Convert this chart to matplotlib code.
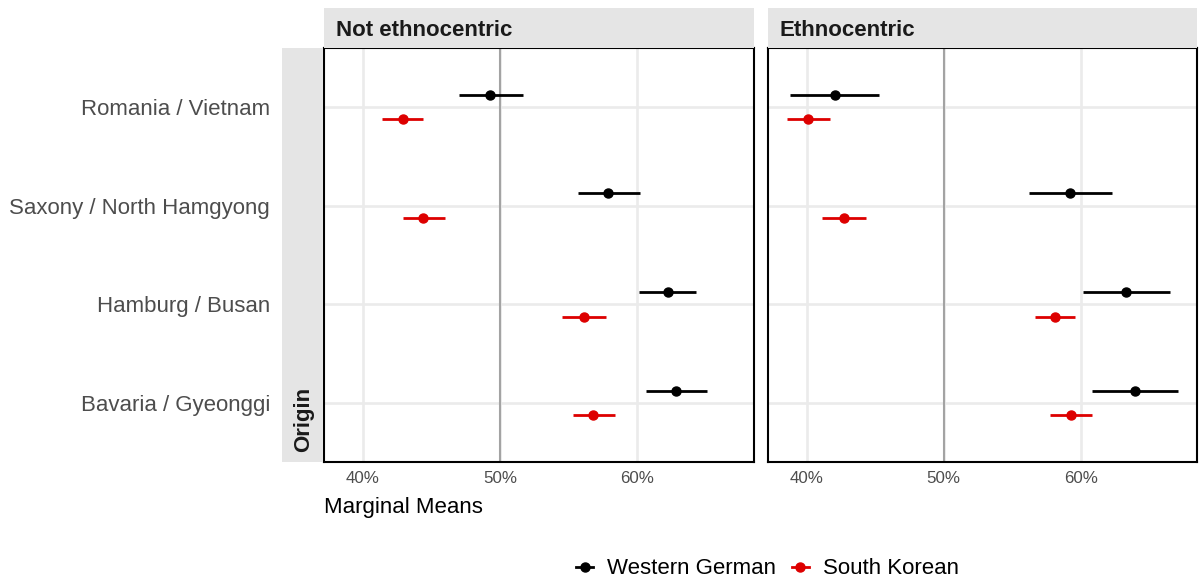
import matplotlib
matplotlib.use("Agg")
import matplotlib.pyplot as plt
from matplotlib.lines import Line2D
from matplotlib.patches import Rectangle
import numpy as np

plt.rcParams['font.family'] = ['Liberation Sans', 'DejaVu Sans']

origins = ["Romania / Vietnam", "Saxony / North Hamgyong", "Hamburg / Busan", "Bavaria / Gyeonggi"]
panels = ["Not ethnocentric", "Ethnocentric"]
groups = ["Western German", "South Korean"]
x_ticks = [40, 50, 60]
x_tick_labels = ["40%", "50%", "60%"]

# Not ethnocentric: marginal means (%) with 95% intervals
wg_est_ne = [49.3, 57.9, 62.2, 62.8]
wg_lo_ne = [47.0, 55.7, 60.1, 60.6]
wg_hi_ne = [51.7, 60.2, 64.3, 65.1]
sk_est_ne = [42.9, 44.4, 56.1, 56.8]
sk_lo_ne = [41.4, 42.9, 54.5, 55.3]
sk_hi_ne = [44.4, 46.0, 57.7, 58.4]

# Ethnocentric
wg_est_e = [42.1, 59.2, 63.3, 64.0]
wg_lo_e = [38.8, 56.2, 60.2, 60.8]
wg_hi_e = [45.3, 62.3, 66.5, 67.1]
sk_est_e = [40.1, 42.7, 58.1, 59.3]
sk_lo_e = [38.6, 41.1, 56.7, 57.8]
sk_hi_e = [41.7, 44.3, 59.6, 60.8]

panel_data = [
    [(wg_est_ne, wg_lo_ne, wg_hi_ne), (sk_est_ne, sk_lo_ne, sk_hi_ne)],
    [(wg_est_e, wg_lo_e, wg_hi_e), (sk_est_e, sk_lo_e, sk_hi_e)],
]
colors = ["#000000", "#DD0000"]
dodge = [0.125, -0.125]

W, H = 1201, 580
fig = plt.figure(figsize=(W / 100, H / 100), dpi=100)

def fx(px):
    return px / W

def fy(py):
    return 1 - py / H

panel_top, panel_bot = 48, 462
panel_x = [(324, 754), (768, 1197)]
strip_top = 8

FS = 16.0
TICK_FS = 12.2
ypos = np.arange(len(origins))[::-1] + 1.0

for i, (x0, x1) in enumerate(panel_x):
    ax = fig.add_axes([fx(x0), fy(panel_bot), fx(x1 - x0), (panel_bot - panel_top) / H])
    ax.set_xlim(37.18, 68.5)
    ax.set_ylim(0.4, 4.6)
    for xv in x_ticks:
        ax.axvline(xv, color="#EBEBEB", lw=1.9, zorder=0)
    for yv in ypos:
        ax.axhline(yv, color="#EBEBEB", lw=1.9, zorder=0)
    ax.axvline(50, color="#A3A3A3", lw=1.5, zorder=1)
    for g, (est, lo, hi) in enumerate(panel_data[i]):
        est = np.array(est)
        err = [est - np.array(lo), np.array(hi) - est]
        ax.errorbar(est, ypos + dodge[g], xerr=err, fmt='o', color=colors[g],
                    ms=6.5, elinewidth=2.0, capsize=0, zorder=3)
    ax.set_xticks(x_ticks)
    ax.set_xticklabels(x_tick_labels)
    ax.tick_params(axis='x', length=0, pad=6.5, labelsize=TICK_FS, labelcolor="#4D4D4D")
    ax.set_yticks(ypos)
    if i == 0:
        ax.set_yticklabels(origins)
        ax.tick_params(axis='y', length=0, pad=38.9, labelsize=FS, labelcolor="#4D4D4D")
    else:
        ax.set_yticklabels([])
        ax.tick_params(axis='y', length=0)
    for s in ax.spines.values():
        s.set_color("black")
        s.set_linewidth(1.5)
    ax.set_facecolor("white")

    # facet strip
    fig.patches.append(Rectangle((fx(x0), fy(panel_top)), fx(x1 - x0), (panel_top - strip_top) / H,
                                 transform=fig.transFigure, facecolor="#E5E5E5",
                                 edgecolor="none", zorder=0))
    fig.text(fx(x0 + 11.5), fy(36), panels[i], fontsize=FS, fontweight='bold',
             color="#1A1A1A", ha='left', va='baseline')

# row strip on the left
fig.patches.append(Rectangle((fx(282), fy(panel_bot)), fx(323.3 - 282), (panel_bot - panel_top) / H,
                             transform=fig.transFigure, facecolor="#E5E5E5",
                             edgecolor="none", zorder=0))
fig.text(fx(304), fy(452), "Origin", rotation=90, fontsize=FS, fontweight='bold',
         color="#1A1A1A", ha='center', va='bottom')

fig.text(fx(324.5), fy(513), "Marginal Means", fontsize=FS, color="black",
         ha='left', va='baseline')

handles = [Line2D([0], [0], color=c, marker='o', ms=6.5, lw=2.0) for c in colors]
fig.legend(handles, groups, loc='center', bbox_to_anchor=(fx(767.5), fy(569)),
           ncol=2, frameon=False, fontsize=FS, handlelength=0.78,
           handletextpad=0.62, columnspacing=0.7, borderpad=0, borderaxespad=0)

fig.savefig("out.png", dpi=100, facecolor="white")
